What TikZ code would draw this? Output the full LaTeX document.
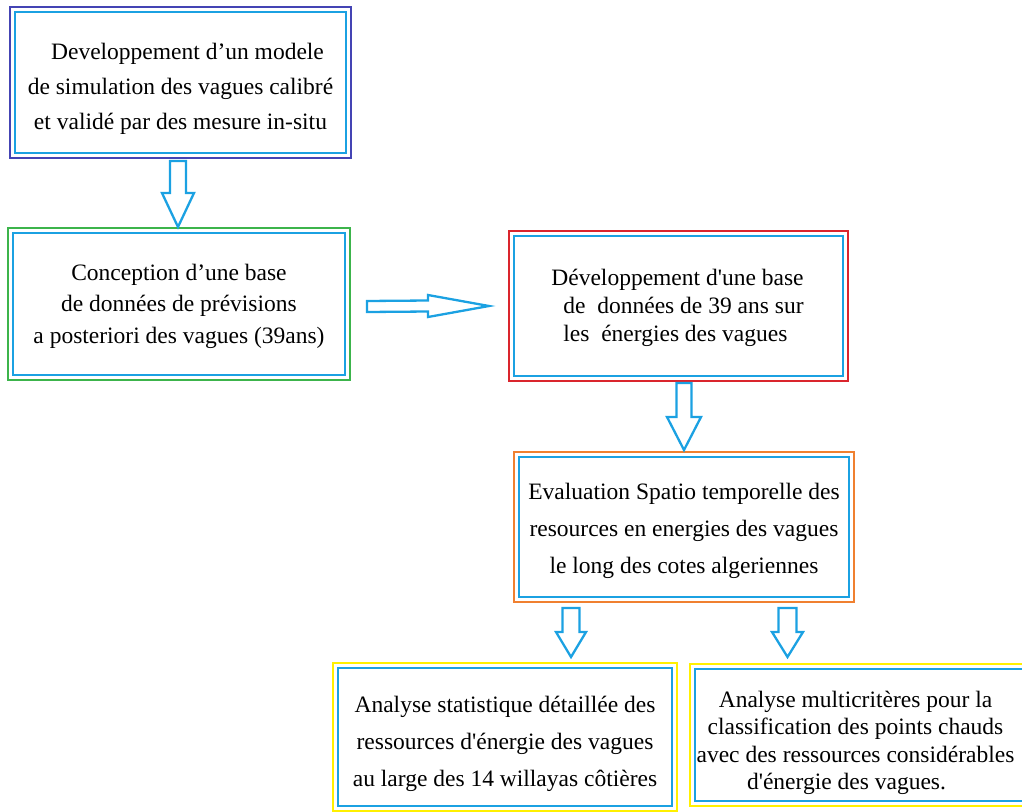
\documentclass[tikz,border=0pt]{standalone}
\usepackage{fontspec}
\setmainfont{Liberation Serif}[Ligatures=TeXOff]
\usetikzlibrary{calc}
\definecolor{cy}{RGB}{27,161,226}
\definecolor{pblue}{RGB}{68,68,180}
\definecolor{grn}{RGB}{60,180,75}
\definecolor{rd}{RGB}{218,37,45}
\definecolor{org}{RGB}{240,128,48}
\definecolor{ylw}{RGB}{255,240,0}
\newcommand\frameit[3]{\draw[#2, line width=2.3pt] ($(#1.north west)+(-#3,-#3)$) rectangle ($(#1.south east)+(#3,#3)$);}
% down block arrow: start, tip, shaft half width, head half width, head length
\newcommand\downblock[5]{\draw[blk] ($(#1)+(-#3,0)$) -- ($(#1)+(#3,0)$) -- ($(#2)+(#3,-#5)$) -- ($(#2)+(#4,-#5)$) -- (#2) -- ($(#2)+(-#4,-#5)$) -- ($(#2)+(-#3,-#5)$) -- cycle;}
\begin{document}
\begin{tikzpicture}[x=1pt,y=-1pt,
  box/.style={draw=cy, line width=2.3pt, inner sep=0pt, outer sep=0pt},
  txt/.style={inner sep=0pt, align=center, font=\fontsize{23.5}{#1}\selectfont},
  blk/.style={draw=cy, line width=2.3pt, fill=white, line join=miter}]
\useasboundingbox (0,0) rectangle (1022,811);
\clip (0,0) rectangle (1022,811);

\node[box, minimum width=331, minimum height=141] (b1) at (180.5,82.5) {};
\frameit{b1}{pblue}{5}
\node[txt=35] (t1) at ($(b1.center)+(0,6)$)
  {\hspace*{14pt}Developpement d’un modele\\de simulation des vagues calibré\\et validé par des mesure in-situ};

\node[box, minimum width=332, minimum height=142] (b2) at (179,304) {};
\frameit{b2}{grn}{5}
\node[txt=31.5] (t2) at ($(b2.center)+(0,2)$)
  {Conception d’une base\\de données de prévisions\\a posteriori des vagues (39ans)};

\node[box, minimum width=329, minimum height=140] (b3) at (678.5,306) {};
\frameit{b3}{rd}{5}
\node[txt=28, align=left] (t3) at ($(b3.center)+(-1,2)$)
  {Développement d'une base\\\hspace*{12pt}de~~données de 39 ans sur\\\hspace*{12pt}les~~énergies des vagues};

\node[box, minimum width=330, minimum height=140] (b4) at (684,527) {};
\frameit{b4}{org}{5}
\node[txt=37] (t4) at ($(b4.center)+(0,4)$)
  {Evaluation Spatio temporelle des\\resources en energies des vagues\\le long des cotes algeriennes};

\node[box, minimum width=334, minimum height=138] (b5) at (505,737) {};
\frameit{b5}{ylw}{5}
\node[txt=37] (t5) at ($(b5.center)+(0,7)$)
  {Analyse statistique détaillée des\\ressources d'énergie des vagues\\au large des 14 willayas côtières};

\node[box, minimum width=335, minimum height=132] (b6) at (862.5,735) {};
\frameit{b6}{ylw}{5}
\node[txt=27.5] (t6) at ($(b6.center)+(-7,8)$)
  {Analyse multicritères pour la\\classification des points chauds\\avec des ressources considérables\\d'énergie des vagues.\hspace*{18pt}\mbox{}};

% arrows
\coordinate (a1s) at ($(b1.south)+(-2.5,8)$);
\coordinate (a1e) at ($(b2.north)+(-1,-6)$);
\downblock{a1s}{a1e}{8}{16}{34}

\coordinate (a2s) at ($(b3.south)+(5.5,7)$);
\coordinate (a2e) at ($(b4.north)+(0,-7)$);
\downblock{a2s}{a2e}{7.5}{17}{33}

\coordinate (a3s) at ($(b4.south)+(-113,11)$);
\coordinate (a3e) at ($(b5.north)+(66,-11)$);
\downblock{a3s}{a3e}{8.5}{15}{25}

\coordinate (a4s) at ($(b4.south)+(103.5,11)$);
\coordinate (a4e) at ($(b6.north)+(-75,-12)$);
\downblock{a4s}{a4e}{9}{15.5}{25}

\coordinate (hs) at ($(b2.east)+(22,2.5)$);
\coordinate (he) at ($(b3.west)+(-25,0)$);
\draw[blk] ($(hs)+(0,-5.5)$) -- ($(he)+(-61,-5.5)$) -- ($(he)+(-61,-11)$) -- (he)
  -- ($(he)+(-61,11)$) -- ($(he)+(-61,5.5)$) -- ($(hs)+(0,5.5)$) -- cycle;
\end{tikzpicture}
\end{document}
